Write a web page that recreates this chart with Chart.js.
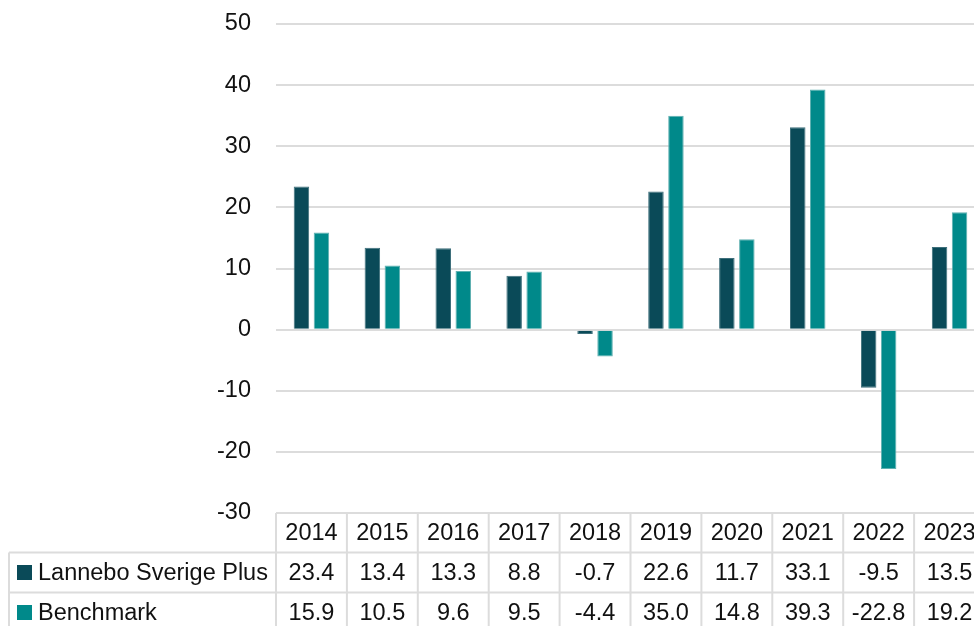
<!DOCTYPE html>
<html>
<head>
<meta charset="utf-8">
<script src="https://cdn.jsdelivr.net/npm/chart.js@4"></script>
<style>
  html, body { margin: 0; padding: 0; background: #ffffff; overflow: hidden; width: 974px; height: 626px; }
  #wrap { width: 985px; height: 626px; }
</style>
</head>
<body>
<div id="wrap"><canvas id="c" width="985" height="626"></canvas></div>
<script>
const categories = ['2014','2015','2016','2017','2018','2019','2020','2021','2022','2023'];
const seriesNames = ['Lannebo Sverige Plus', 'Benchmark'];
const fundValues = [23.4, 13.4, 13.3, 8.8, -0.7, 22.6, 11.7, 33.1, -9.5, 13.5];
const benchValues = [15.9, 10.5, 9.6, 9.5, -4.4, 35.0, 14.8, 39.3, -22.8, 19.2];
const yTicks = [50, 40, 30, 20, 10, 0, -10, -20, -30];

const colors = ['#0a4a58', '#00898a'];
const borderColors = ['#3e6f7b', '#5fb0b1'];
const FONT_SIZE = 23.5;
const FONT_FAMILY = '"Liberation Sans", Arial, sans-serif';
const FONT = FONT_SIZE + 'px ' + FONT_FAMILY;
const TEXT = '#111111';
const LINE = '#dcdcdc';

const tablePlugin = {
  id: 'dataTable',
  afterDraw(chart) {
    const ctx = chart.ctx;
    const xs = chart.scales.x;
    const area = chart.chartArea;
    const n = categories.length;
    const w = (area.right - area.left) / n;
    const top = area.bottom;
    const rowH = [39.5, 40, 40];
    const r1 = top + rowH[0];
    const r2 = r1 + rowH[1];
    const r3 = r2 + rowH[2];
    const legendLeft = 9;
    ctx.save();
    ctx.strokeStyle = LINE;
    ctx.lineWidth = 2;
    ctx.beginPath();
    ctx.moveTo(area.left, top); ctx.lineTo(area.right, top);
    ctx.moveTo(legendLeft, r1); ctx.lineTo(area.right, r1);
    ctx.moveTo(legendLeft, r2); ctx.lineTo(area.right, r2);
    ctx.moveTo(legendLeft, r3); ctx.lineTo(area.right, r3);
    ctx.moveTo(legendLeft, r1); ctx.lineTo(legendLeft, r3);
    for (let i = 0; i <= n; i++) {
      const bx = i < n ? xs.getPixelForValue(i) - w / 2 : xs.getPixelForValue(n - 1) + w / 2;
      ctx.moveTo(bx, top); ctx.lineTo(bx, r3);
    }
    ctx.stroke();

    ctx.font = FONT;
    ctx.fillStyle = TEXT;
    ctx.textBaseline = 'middle';
    ctx.textAlign = 'center';
    const rows = [fundValues, benchValues];
    for (let i = 0; i < n; i++) {
      const cx = xs.getPixelForValue(i);
      ctx.fillText(categories[i], cx, (top + r1) / 2 + 1);
      ctx.fillText(rows[0][i].toFixed(1), cx, (r1 + r2) / 2 + 1);
      ctx.fillText(rows[1][i].toFixed(1), cx, (r2 + r3) / 2 + 1);
    }
    ctx.textAlign = 'left';
    const rowMids = [(r1 + r2) / 2, (r2 + r3) / 2];
    for (let s = 0; s < 2; s++) {
      ctx.fillStyle = colors[s];
      ctx.fillRect(17, rowMids[s] - 7.5, 15, 15);
      ctx.fillStyle = TEXT;
      ctx.fillText(seriesNames[s], 38, rowMids[s] + 1);
    }
    ctx.restore();
  }
};

new Chart(document.getElementById('c'), {
  type: 'bar',
  data: {
    labels: categories,
    datasets: [
      { label: seriesNames[0], data: fundValues, backgroundColor: colors[0], borderColor: borderColors[0], borderWidth: 1,
        categoryPercentage: 0.564, barPercentage: 0.775 },
      { label: seriesNames[1], data: benchValues, backgroundColor: colors[1], borderColor: borderColors[1], borderWidth: 1,
        categoryPercentage: 0.564, barPercentage: 0.775 }
    ]
  },
  options: {
    responsive: false,
    animation: false,
    devicePixelRatio: 1,
    layout: { padding: { top: 24, bottom: 113, left: 0, right: 0 } },
    plugins: { legend: { display: false }, tooltip: { enabled: false } },
    scales: {
      x: { display: false },
      y: {
        min: -30, max: 50,
        afterBuildTicks(scale) { scale.ticks = yTicks.map(v => ({ value: v })); },
        afterFit(scale) { scale.width = 276; scale.paddingTop = 0; scale.paddingBottom = 0; },
        border: { display: false },
        grid: { color: LINE, lineWidth: 2, drawTicks: false },
        ticks: {
          padding: 25,
          color: TEXT,
          font: { family: FONT_FAMILY, size: FONT_SIZE },
          callback: v => String(v)
        }
      }
    }
  },
  plugins: [tablePlugin]
});
</script>
</body>
</html>
